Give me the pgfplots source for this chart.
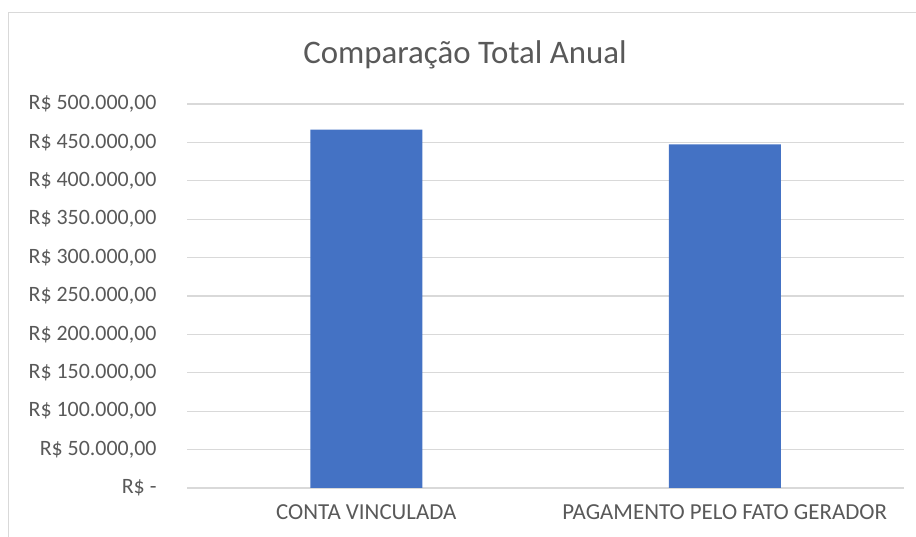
\documentclass[border=0pt]{standalone}
\usepackage{pgfplots}
\pgfplotsset{compat=1.18}
\usepackage{fontspec}
\setmainfont{Carlito}
\definecolor{barblue}{HTML}{4472C4}
\definecolor{gridgray}{HTML}{D9D9D9}
\definecolor{txtgray}{HTML}{595959}
\begin{document}
\begin{tikzpicture}[x=1bp,y=1bp]
\path[use as bounding box] (0,0) rectangle (916,537);
\clip (0,0) rectangle (916,537);
\draw[gridgray, line width=1.3bp] (8.5,-20) -- (8.5,524.5) -- (940,524.5);
\node[txtgray, font=\fontsize{33}{40}\selectfont] at (465,482.5) {Comparação Total Anual};
\begin{axis}[
  at={(187bp,49bp)}, anchor=south west,
  scale only axis, width=717bp, height=384bp,
  xmin=-0.5, xmax=1.5, ymin=0, ymax=500000,
  axis line style={draw=none},
  major tick length=0pt,
  ymajorgrids, grid style={gridgray, line width=1.3bp},
  ytick={0,50000,...,500000},
  yticklabels={{R\$ -\hspace{6bp}}, {R\$ 50.000,00}, {R\$ 100.000,00}, {R\$ 150.000,00}, {R\$ 200.000,00}, {R\$ 250.000,00}, {R\$ 300.000,00}, {R\$ 350.000,00}, {R\$ 400.000,00}, {R\$ 450.000,00}, {R\$ 500.000,00}},
  xtick={0,1},
  xticklabels={CONTA VINCULADA, PAGAMENTO PELO FATO GERADOR},
  /pgf/number format/assume math mode=true,
  tick label style={txtgray, font=\fontsize{23}{27}\selectfont},
  yticklabel style={anchor=east, xshift=-27bp, font=\fontsize{22}{26}\selectfont},
  xticklabel style={anchor=north, yshift=-13bp},
  scaled y ticks=false,
  clip=false,
]
\addplot[ybar, bar width=112bp, fill=barblue, draw=none, bar shift=0pt] coordinates {(0,466500) (1,447500)};
\end{axis}
\end{tikzpicture}
\end{document}
